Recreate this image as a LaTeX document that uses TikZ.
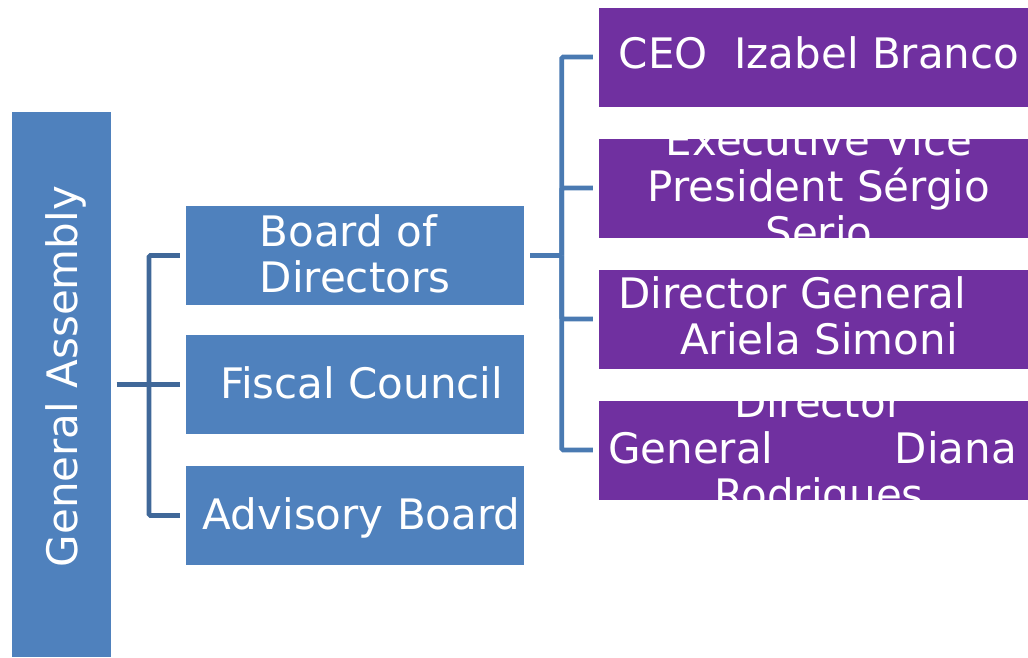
\documentclass[tikz,border=0pt]{standalone}
\usepackage{fontspec}
\setmainfont{DejaVu Sans}
\definecolor{boxblue}{HTML}{4F81BD}
\definecolor{boxpurple}{HTML}{7030A0}
\definecolor{connleft}{HTML}{406899}
\definecolor{connright}{HTML}{4A7AB2}
\tikzset{
  bbox/.style={fill=boxblue, draw=none, inner sep=0pt, minimum width=338pt, minimum height=99pt},
  pbox/.style={fill=boxpurple, draw=none, inner sep=0pt, minimum width=440pt, minimum height=99pt},
  gabox/.style={fill=boxblue, draw=none, inner sep=0pt, minimum width=99pt, minimum height=545pt},
  txt/.style={text=white, inner sep=0pt, font=\fontsize{42}{46}\selectfont},
  lconn/.style={draw=connleft, line width=4.7pt, rounded corners=1.5pt},
  rconn/.style={draw=connright, line width=4.8pt, rounded corners=1.5pt},
}
\begin{document}
\begin{tikzpicture}[x=1pt,y=-1pt]
\useasboundingbox (0,0) rectangle (1028,657);
\clip (0,0) rectangle (1028,657);

% General Assembly
\node[gabox] (ga) at (61.5,384.5) {};
\node[txt, rotate=90] (ga-t) at (65.7,376.5) {General Assembly};

% Blue boxes
\node[bbox] (bod) at (355,255.5) {};
\node[txt, align=left, yshift=1.75pt] (bod-t) at (bod.center) {Board of\\Directors};
\node[bbox] (fc) at (355,384.5) {};
\node[txt, yshift=1.2pt] (fc-t) at (fc.center) {\ Fiscal Council};
\node[bbox] (ab) at (355,515.5) {};
\node[txt, yshift=-2.8pt] (ab-t) at (ab.center) {\ Advisory Board};

% Purple boxes
\node[pbox] (ceo) at (819,57) {};
\node[pbox] (evp) at (819,188) {};
\node[pbox] (dg1) at (819,319) {};
\node[pbox] (dg2) at (819,450) {};

\begin{scope}
  \clip (ceo.north west) rectangle (ceo.south east);
  \node[txt, yshift=3.7pt] (ceo-t) at (ceo.center) {CEO\ \ Izabel Branco};
\end{scope}
\begin{scope}
  \clip (evp.north west) rectangle (evp.south east);
  \node[txt, align=center, yshift=2.3pt] (evp-t) at (evp.center) {Executive Vice\\President Sérgio\hspace*{12pt}\\Serio};
\end{scope}
\begin{scope}
  \clip (dg1.north west) rectangle (dg1.south east);
  \node[txt, align=center, yshift=3.5pt] (dg1-t) at (dg1.center) {Director General\hspace*{54pt}\\Ariela Simoni};
\end{scope}
\begin{scope}
  \clip (dg2.north west) rectangle (dg2.south east);
  \node[txt, align=center, yshift=-2pt] (dg2-t) at (dg2.center) {Director\\\makebox[422pt]{General\hfill Diana\hspace*{13pt}}\\Rodrigues};
\end{scope}

% Left connectors
\coordinate (j1) at (149,384.5);
\draw[lconn] ([xshift=5.5pt]ga.east) -- (j1);
\draw[lconn] (j1) |- ([xshift=-6pt]bod.west);
\draw[lconn] (j1) -- ([xshift=-6pt]fc.west);
\draw[lconn] (j1) |- ([xshift=-6pt]ab.west);

% Right connectors
\coordinate (j2) at (561.7,255.5);
\draw[rconn] ([xshift=6pt]bod.east) -- (j2);
\draw[rconn] (j2) |- ([xshift=-6pt]ceo.west);
\draw[rconn] (j2) |- ([xshift=-6pt]evp.west);
\draw[rconn] (j2) |- ([xshift=-6pt]dg1.west);
\draw[rconn] (j2) |- ([xshift=-6pt]dg2.west);
\end{tikzpicture}
\end{document}
